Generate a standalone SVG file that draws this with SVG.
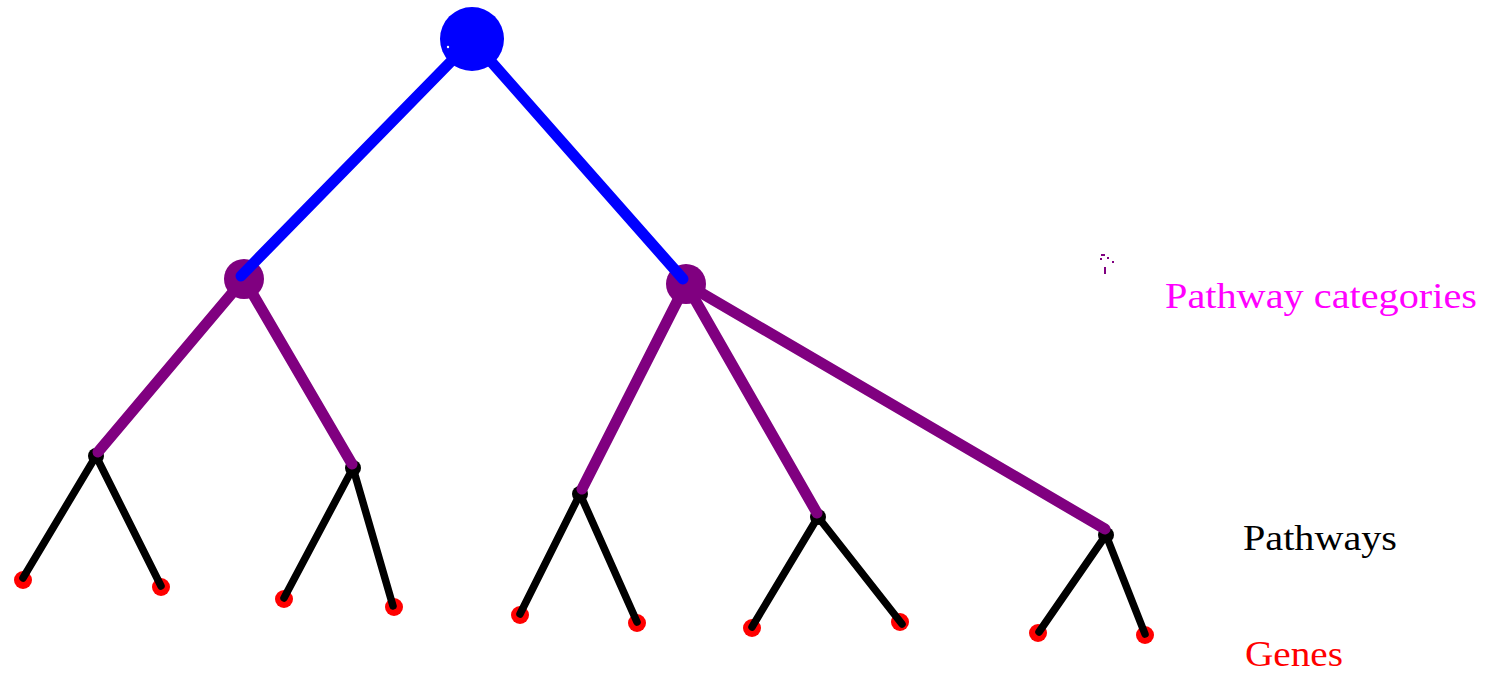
<svg xmlns="http://www.w3.org/2000/svg" width="1492" height="673" viewBox="0 0 1492 673">
  <style>
    .gene { fill: #ff0000; }
    .pathway { fill: #000000; }
    .category { fill: #800080; }
    .root { fill: #0000ff; }
    .e-gene { stroke: #000000; stroke-width: 7.5; stroke-linecap: round; fill: none; }
    .e-path { stroke: #800080; stroke-width: 11; stroke-linecap: round; fill: none; }
    .e-cat { stroke: #0000ff; stroke-width: 11; stroke-linecap: round; fill: none; }
    .lbl { font-family: "Liberation Serif", "DejaVu Serif", serif; font-size: 36px; }
  </style>
  <rect width="1492" height="673" fill="#ffffff"/>

  <g id="genes">
    <circle id="gene1" class="gene" cx="23" cy="580" r="9"/>
    <circle id="gene2" class="gene" cx="161" cy="587" r="9"/>
    <circle id="gene3" class="gene" cx="284" cy="599" r="9"/>
    <circle id="gene4" class="gene" cx="394" cy="607" r="9"/>
    <circle id="gene5" class="gene" cx="520" cy="615" r="9"/>
    <circle id="gene6" class="gene" cx="637" cy="623" r="9"/>
    <circle id="gene7" class="gene" cx="752" cy="628" r="9"/>
    <circle id="gene8" class="gene" cx="900" cy="622" r="9"/>
    <circle id="gene9" class="gene" cx="1038" cy="633" r="9"/>
    <circle id="gene10" class="gene" cx="1145" cy="635" r="9"/>
  </g>

  <g id="pathways">
    <circle id="pathway1" class="pathway" cx="96" cy="456" r="8"/>
    <circle id="pathway2" class="pathway" cx="353" cy="468" r="8"/>
    <circle id="pathway3" class="pathway" cx="580" cy="494" r="8"/>
    <circle id="pathway4" class="pathway" cx="818" cy="517" r="8"/>
    <circle id="pathway5" class="pathway" cx="1106" cy="535" r="8"/>
  </g>

  <g id="categories">
    <circle id="category1" class="category" cx="244" cy="279" r="20"/>
    <circle id="category2" class="category" cx="686" cy="284" r="20"/>
  </g>

  <g id="connectors">
    <g id="gene-edges">
      <line class="e-gene" x1="96" y1="456" x2="23" y2="578"/>
      <line class="e-gene" x1="96" y1="456" x2="161" y2="586"/>
      <line class="e-gene" x1="353" y1="468" x2="284" y2="598"/>
      <line class="e-gene" x1="353" y1="468" x2="393" y2="606"/>
      <line class="e-gene" x1="580" y1="494" x2="520" y2="614"/>
      <line class="e-gene" x1="580" y1="494" x2="637" y2="622"/>
      <line class="e-gene" x1="818" y1="517" x2="752" y2="627"/>
      <line class="e-gene" x1="818" y1="517" x2="902" y2="624"/>
      <line class="e-gene" x1="1106" y1="535" x2="1039" y2="632"/>
      <line class="e-gene" x1="1106" y1="535" x2="1145" y2="634"/>
    </g>
    <g id="pathway-edges">
      <line class="e-path" x1="244" y1="279" x2="98" y2="452"/>
      <line class="e-path" x1="244" y1="279" x2="352" y2="464"/>
      <line class="e-path" x1="686" y1="284" x2="582" y2="489"/>
      <line class="e-path" x1="686" y1="284" x2="817" y2="513"/>
      <line class="e-path" x1="686" y1="284" x2="1105" y2="529"/>
    </g>
    <g id="category-edges">
      <line class="e-cat" x1="472" y1="40" x2="241" y2="276"/>
      <line class="e-cat" x1="472" y1="40" x2="683" y2="279"/>
    </g>
  </g>

  <g id="root">
    <circle class="root" cx="472" cy="39" r="32"/>
    <circle cx="448" cy="47" r="1.2" fill="#ffffff"/>
  </g>

  <g id="artifact" fill="#800080">
    <rect x="1101" y="254" width="4" height="2"/>
    <rect x="1100" y="258" width="2" height="2"/>
    <rect x="1107" y="257" width="2" height="2"/>
    <rect x="1112" y="261" width="2" height="2"/>
    <rect x="1104" y="267" width="2" height="7"/>
  </g>

  <g id="labels">
    <text class="lbl" x="1165" y="308" fill="#ff00ff" textLength="312" lengthAdjust="spacingAndGlyphs">Pathway categories</text>
    <text class="lbl" x="1243" y="550" fill="#000000" textLength="154" lengthAdjust="spacingAndGlyphs">Pathways</text>
    <text class="lbl" x="1245" y="666" fill="#ff0000" textLength="98" lengthAdjust="spacingAndGlyphs">Genes</text>
  </g>
</svg>
